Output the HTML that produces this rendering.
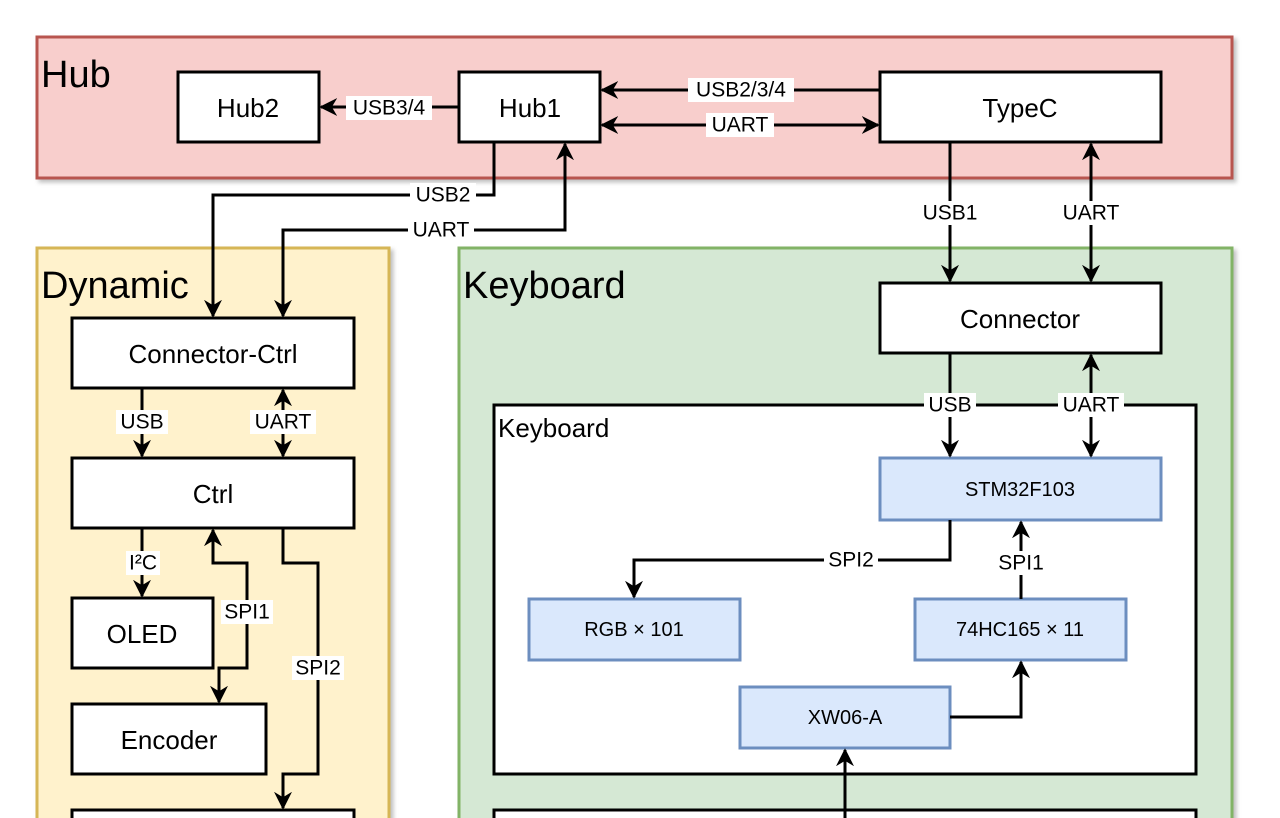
<!DOCTYPE html>
<html><head><meta charset="utf-8"><style>
html,body{margin:0;padding:0;background:#fff;}
svg{display:block;font-family:"Liberation Sans",sans-serif;}
.n{fill:#fff;stroke:#000;stroke-width:3;}
.b{fill:#dae8fc;stroke:#6c8ebf;stroke-width:3;}
.e{fill:none;stroke:#000;stroke-width:3;}
.t{font-size:26px;text-anchor:middle;dominant-baseline:central;}
.s{font-size:20px;text-anchor:middle;dominant-baseline:central;}
.l{font-size:21px;text-anchor:middle;dominant-baseline:central;}
.h{font-size:38px;}
</style></head><body>
<svg width="1280" height="818" viewBox="0 0 1280 818">
<defs>
<marker id="a" viewBox="0 0 10 10" refX="9" refY="5" markerWidth="6" markerHeight="6" orient="auto-start-reverse" markerUnits="strokeWidth"><path d="M0,0 L10,5 L0,10 L3,5 z" fill="#000"/></marker>
<filter id="sh"><feDropShadow dx="3" dy="3" stdDeviation="2" flood-opacity="0.25"/></filter>
</defs>
<rect x="37" y="37" width="1195" height="141" fill="#f8cecc" stroke="#b85450" stroke-width="3" filter="url(#sh)"/>
<text x="41" y="87" class="h">Hub</text>
<rect x="37" y="248" width="352" height="580" fill="#fff2cc" stroke="#d6b656" stroke-width="3" filter="url(#sh)"/>
<text x="41" y="298" class="h">Dynamic</text>
<rect x="459" y="248" width="773" height="580" fill="#d5e8d4" stroke="#82b366" stroke-width="3" filter="url(#sh)"/>
<text x="463" y="298" class="h">Keyboard</text>
<rect x="494" y="405" width="702" height="369" class="n"/>
<text x="498" y="437" style="font-size:26px">Keyboard</text>
<rect x="494" y="810" width="702" height="30" class="n"/>
<rect x="178" y="72" width="141" height="70" class="n"/><text x="248" y="108" class="t">Hub2</text>
<rect x="459" y="72" width="141" height="70" class="n"/><text x="530" y="108" class="t">Hub1</text>
<rect x="880" y="72" width="281" height="70" class="n"/><text x="1020" y="108" class="t">TypeC</text>
<rect x="72" y="318" width="282" height="70" class="n"/><text x="213" y="354" class="t">Connector-Ctrl</text>
<rect x="72" y="458" width="282" height="70" class="n"/><text x="213" y="494" class="t">Ctrl</text>
<rect x="72" y="598" width="141" height="70" class="n"/><text x="142" y="634" class="t">OLED</text>
<rect x="72" y="704" width="194" height="70" class="n"/><text x="169" y="740" class="t">Encoder</text>
<rect x="72" y="810" width="282" height="30" class="n"/>
<rect x="880" y="283" width="281" height="70" class="n"/><text x="1020" y="319" class="t">Connector</text>
<rect x="880" y="458" width="281" height="62" class="b"/><text x="1020" y="490" class="s">STM32F103</text>
<rect x="529" y="599" width="211" height="61" class="b"/><text x="634" y="630" class="s">RGB × 101</text>
<rect x="915" y="599" width="211" height="61" class="b"/><text x="1020" y="630" class="s">74HC165 × 11</text>
<rect x="740" y="687" width="210" height="61" class="b"/><text x="845" y="718" class="s">XW06-A</text>
<path class="e" d="M459,107 H321" marker-end="url(#a)"/>
<path class="e" d="M880,90 H602" marker-end="url(#a)"/>
<path class="e" d="M602,125 H878" marker-start="url(#a)" marker-end="url(#a)"/>
<path class="e" d="M494,142 V195 H213 V316" marker-end="url(#a)"/>
<path class="e" d="M283,316 V230 H565 V144" marker-start="url(#a)" marker-end="url(#a)"/>
<path class="e" d="M950,142 V281" marker-end="url(#a)"/>
<path class="e" d="M1091,144 V281" marker-start="url(#a)" marker-end="url(#a)"/>
<path class="e" d="M950,353 V456" marker-end="url(#a)"/>
<path class="e" d="M1091,355 V456" marker-start="url(#a)" marker-end="url(#a)"/>
<path class="e" d="M142,388 V456" marker-end="url(#a)"/>
<path class="e" d="M283,390 V456" marker-start="url(#a)" marker-end="url(#a)"/>
<path class="e" d="M142,528 V596" marker-end="url(#a)"/>
<path class="e" d="M213,530 V563 H247 V668 H219 V702" marker-start="url(#a)" marker-end="url(#a)"/>
<path class="e" d="M283,528 V563 H318 V774 H283 V808" marker-end="url(#a)"/>
<path class="e" d="M950,520 V560 H634 V597" marker-end="url(#a)"/>
<path class="e" d="M1021,599 V522" marker-end="url(#a)"/>
<path class="e" d="M950,717 H1021 V662" marker-end="url(#a)"/>
<path class="e" d="M845,818 V750" marker-end="url(#a)"/>
<g fill="#fff">
<rect x="346" y="96" width="86" height="24"/>
<rect x="688" y="78" width="106" height="24"/>
<rect x="706" y="113" width="68" height="24"/>
<rect x="410" y="183" width="66" height="24"/>
<rect x="408" y="218" width="66" height="24"/>
<rect x="918" y="201" width="64" height="24"/>
<rect x="1058" y="201" width="66" height="24"/>
<rect x="924" y="393" width="52" height="24"/>
<rect x="1058" y="393" width="66" height="24"/>
<rect x="116" y="410" width="52" height="24"/>
<rect x="250" y="410" width="66" height="24"/>
<rect x="126" y="551" width="34" height="24"/>
<rect x="221" y="600" width="52" height="24"/>
<rect x="292" y="656" width="52" height="24"/>
<rect x="824" y="548" width="54" height="24"/>
<rect x="995" y="551" width="52" height="24"/>
</g>
<text x="389" y="108" class="l">USB3/4</text>
<text x="741" y="90" class="l">USB2/3/4</text>
<text x="740" y="125" class="l">UART</text>
<text x="443" y="195" class="l">USB2</text>
<text x="441" y="230" class="l">UART</text>
<text x="950" y="213" class="l">USB1</text>
<text x="1091" y="213" class="l">UART</text>
<text x="950" y="405" class="l">USB</text>
<text x="1091" y="405" class="l">UART</text>
<text x="142" y="422" class="l">USB</text>
<text x="283" y="422" class="l">UART</text>
<text x="143" y="563" class="l">I²C</text>
<text x="247" y="612" class="l">SPI1</text>
<text x="318" y="668" class="l">SPI2</text>
<text x="851" y="560" class="l">SPI2</text>
<text x="1021" y="563" class="l">SPI1</text>
</svg>
</body></html>
